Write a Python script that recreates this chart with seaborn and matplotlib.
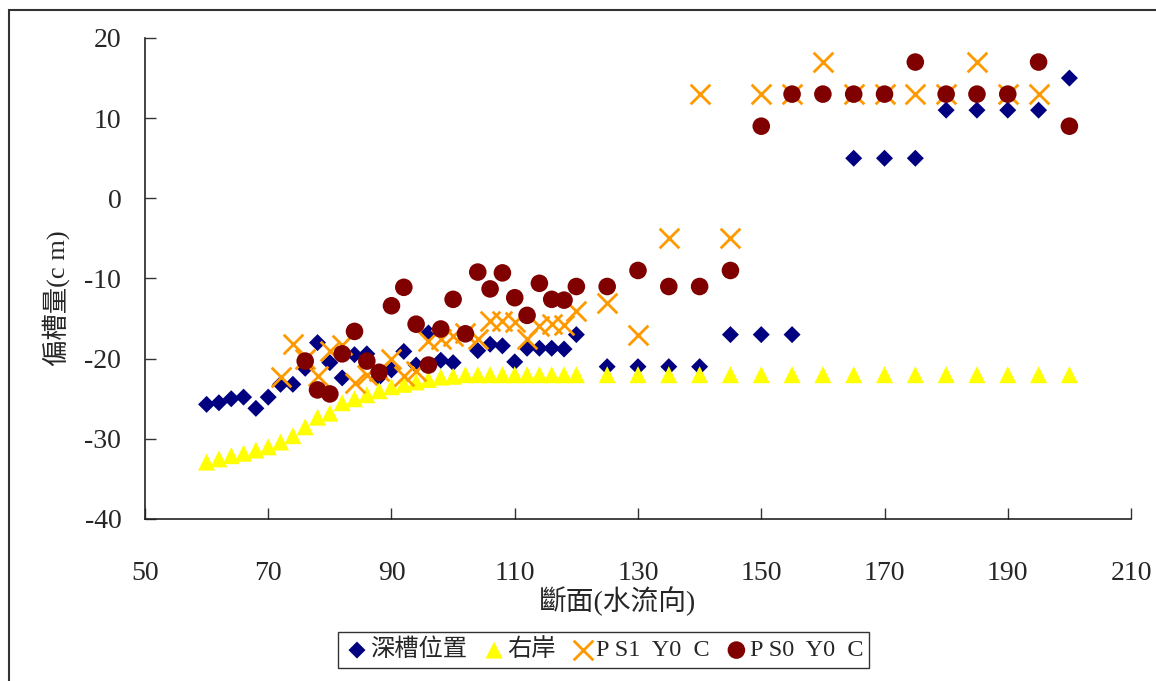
import numpy as np
import pandas as pd
import seaborn as sns
import matplotlib
matplotlib.use("Agg")
import matplotlib.pyplot as plt
from matplotlib.patches import Rectangle

nan = np.nan
section = [60, 62, 64, 66, 68, 70, 72, 74, 76, 78, 80, 82, 84, 86, 88, 90, 92, 94, 96, 98,
           100, 102, 104, 106, 108, 110, 112, 114, 116, 118, 120,
           125, 130, 135, 140, 145, 150, 155, 160, 165, 170, 175, 180, 185, 190, 195, 200]

thalweg = [-25.7, -25.5, -25.0, -24.8, -26.2, -24.8, -23.2, -23.2, -21.2, -18.0, -20.5, -22.4,
           -19.5, -19.4, -22.3, -21.4, -19.1, -20.8, -16.8, -20.2, -20.5, nan, -19.0, -18.2,
           -18.4, -20.4, -18.7, -18.7, -18.7, -18.8, -17.0,
           -21, -21, -21, -21, -17, -17, -17, nan, 5, 5, 5, 11, 11, 11, 11, 15]

right_bank = [-32.9, -32.5, -32.1, -31.8, -31.4, -31.0, -30.4, -29.6, -28.5, -27.3, -26.8, -25.5,
              -25.0, -24.5, -24.0, -23.5, -23.2, -22.9, -22.6, -22.3, -22.2, -22.0, -22.0, -22.0,
              -22.0, -22.0, -22.0, -22.0, -22.0, -22.0, -22.0,
              -22, -22, -22, -22, -22, -22, -22, -22, -22, -22, -22, -22, -22, -22, -22, -22]

ps1 = [nan, nan, nan, nan, nan, nan, -22.3, -18.2, -20.1, -22.2, -19.0, -18.3,
       -23.0, -22.0, -21.5, -20.0, -22.2, -21.5, -17.8, -17.6, -17.2, -16.8, -17.5, -15.3,
       -15.3, -15.4, -17.6, -15.9, -15.7, -15.8, -14.0,
       -13, -17, -5, 13, -5, 13, 13, 17, 13, 13, 13, 13, 17, 13, 13, nan]

ps0 = [nan, nan, nan, nan, nan, nan, nan, nan, -20.3, -23.9, -24.4, -19.4,
       -16.6, -20.3, -21.7, -13.4, -11.1, -15.7, -20.8, -16.3, -12.6, -16.9, -9.2, -11.3,
       -9.3, -12.4, -14.6, -10.6, -12.6, -12.7, -11.0,
       -11, -9, -11, -11, -9, 9, 13, 13, 13, 13, 17, 13, 13, 13, 17, 9]

labels = ["深槽位置", "右岸", "P S1  Y0  C", "P S0  Y0  C"]
x_ticks = [50, 70, 90, 110, 130, 150, 170, 190, 210]
y_ticks = [-40, -30, -20, -10, 0, 10, 20]

sns.set_theme(style="white")
plt.rcParams['font.family'] = ['Liberation Serif', 'Noto Sans CJK TC', 'DejaVu Sans']
plt.rcParams['axes.unicode_minus'] = False

df = pd.DataFrame({"x": section, "a": thalweg, "b": right_bank, "c": ps1, "d": ps0})

fig = plt.figure(figsize=(11.56, 6.81), dpi=100)
ax = fig.add_axes([0.1254, 0.2379, 0.8530, 0.7063])

sns.scatterplot(data=df, x="x", y="a", marker="D", s=75, color="#000080",
                edgecolor="none", label=labels[0], ax=ax, zorder=3)
sns.scatterplot(data=df, x="x", y="b", marker="^", s=150, color="#FFFF00",
                edgecolor="none", label=labels[1], ax=ax, zorder=4)
sns.scatterplot(data=df, x="x", y="c", marker="x", s=200, color="#FF9900",
                linewidth=2.0, label=labels[2], ax=ax, zorder=5)
sns.scatterplot(data=df, x="x", y="d", marker="o", s=160, color="#800000",
                edgecolor="none", label=labels[3], ax=ax, zorder=6)

ax.set_xlim(50, 210)
ax.set_ylim(-40, 20)
ax.set_xticks(x_ticks)
ax.set_yticks(y_ticks)
ax.tick_params(axis='both', direction='in', length=8, width=1, color='#333333',
               labelsize=20, left=True, bottom=True)
ax.tick_params(axis='y', pad=17)
ax.tick_params(axis='x', pad=30)
for sp in ["top", "right"]:
    ax.spines[sp].set_visible(False)
for sp in ["left", "bottom"]:
    ax.spines[sp].set_color('#222222')
    ax.spines[sp].set_linewidth(1.2)

ax.set_xlabel("斷面(水流向)", fontsize=20)
ax.set_ylabel("偏槽量(c m)", fontsize=19)
ax.xaxis.set_label_coords(0.479, -0.14)
ax.yaxis.set_label_coords(-0.076, 0.46)

handles, labs = ax.get_legend_handles_labels()
ax.get_legend().remove()
leg = fig.legend(handles, labs, loc='center', bbox_to_anchor=(0.522, 0.0455), ncol=4,
                 fontsize=17.5, frameon=True, fancybox=False, edgecolor='black',
                 handletextpad=0.0, columnspacing=0.55, handlelength=1.1,
                 borderpad=0.25, borderaxespad=0.2, markerscale=1.0)
leg.get_frame().set_linewidth(1.0)

fig.patches.append(Rectangle((9 / 1156, -0.1), 1.2, (681 - 10) / 681 + 0.1,
                             transform=fig.transFigure, fill=False,
                             edgecolor='#333333', linewidth=1.5))

fig.savefig("out.png", dpi=100)
